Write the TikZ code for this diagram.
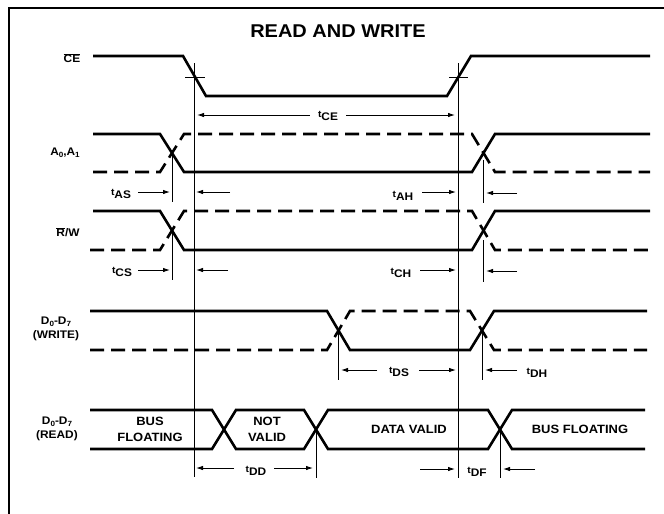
\documentclass[tikz,border=0pt]{standalone}
\usepackage{fontspec}
\setmainfont{Liberation Sans}[FakeStretch=1.08]
\usetikzlibrary{arrows.meta}
\newcommand{\tlab}[1]{{\fontsize{9.5}{9.5}\selectfont t}\raisebox{-3pt}{\fontsize{11}{11}\selectfont #1}}
\newcommand{\mysub}[1]{\raisebox{-1.5pt}{\fontsize{7.5}{7.5}\selectfont #1}}
\begin{document}
\begin{tikzpicture}[x=1pt,y=-1pt,
  sig/.style={line width=2.6pt,line cap=butt,line join=miter},
  dsig/.style={sig,dash pattern=on 14pt off 7pt},
  refl/.style={line width=0.9pt},
  tick/.style={line width=0.9pt},
  arr/.style={line width=0.9pt,-{Latex[length=7pt,width=4.5pt]}},
  lab/.style={font=\bfseries\fontsize{11}{13.5}\selectfont,inner sep=0pt,align=center},
  blab/.style={font=\bfseries\fontsize{12}{16}\selectfont,inner sep=0pt,align=center},
  tl/.style={font=\bfseries,inner sep=0pt}]
\useasboundingbox (0,0) rectangle (664,514);
% frame
\draw[line width=1.3pt] (9,514) -- (9,8) -- (664,8);
% title
\node[font=\bfseries\fontsize{18.5}{20}\selectfont,inner sep=0pt] (title) at (338,31) {READ AND WRITE};

% signal labels
\node[lab] (lce) at (72,58) {$\overline{\mbox{CE}}$};
\node[lab] (la) at (65,153) {A\mysub{0},A\mysub{1}};
\node[lab] (lrw) at (68,232) {$\overline{\mbox{R}}$/W};
\node[lab] (ldw) at (56,329) {D\mysub{0}-D\mysub{7}\\(WRITE)};
\node[lab] (ldr) at (57,429) {D\mysub{0}-D\mysub{7}\\(READ)};

% reference lines
\coordinate (r1t) at (194,63); \coordinate (r1b) at (194,477);
\coordinate (r2t) at (458,63); \coordinate (r2b) at (458,478);
\draw[refl] (r1t) -- (r1b);
\draw[refl] (r2t) -- (r2b);

% CE
\draw[sig] (93,56) -- (183,56) -- (206,96) -- (447,96) -- (471,56) -- (650,56);
\draw[tick] (185,77) -- (205,77);
\draw[tick] (449,77) -- (468,77);
\coordinate (ce1) at (197,115); \coordinate (ce2) at (455,115);
\node[tl] (tce) at (328,116) {\tlab{CE}};
\draw[arr] (tce.west) ++(-8,-1) -- (ce1);
\draw[arr] (tce.east) ++(8,-1) -- (ce2);

% A0,A1
\draw[sig] (93,134) -- (160,134) -- (184,172) -- (472,172) -- (495,134) -- (650,134);
\draw[dsig] (93,172) -- (160,172) -- (184,134) -- (472,134) -- (495,172) -- (650,172);
\draw[tick] (172,153) -- (172,202);
\draw[tick] (483.5,160) -- (483.5,203);
\node[tl] (tas) at (121,194) {\tlab{AS}};
\draw[arr] (138,192) -- (170,192);
\draw[arr] (230,192) -- (196,192);
\node[tl] (tah) at (403,196) {\tlab{AH}};
\draw[arr] (422,192) -- (456,192);
\draw[arr] (517,193) -- (486,193);

% R/W
\draw[sig] (93,211) -- (160,211) -- (184,250) -- (472,250) -- (495,211) -- (650,211);
\draw[dsig] (90,250) -- (160,250) -- (184,211) -- (472,211) -- (495,250) -- (650,250);
\draw[tick] (172,232) -- (172,280);
\draw[tick] (483.5,240) -- (483.5,282);
\node[tl] (tcs) at (122,272) {\tlab{CS}};
\draw[arr] (138,270) -- (170,270);
\draw[arr] (228,270) -- (196,270);
\node[tl] (tch) at (401,273) {\tlab{CH}};
\draw[arr] (420,270) -- (456,270);
\draw[arr] (517,271) -- (486,271);

% D0-D7 write
\draw[sig] (90,311) -- (327,311) -- (350,350) -- (470,350) -- (494,311) -- (647,311);
\draw[dsig] (90,350) -- (327,350) -- (350,311) -- (470,311) -- (494,350) -- (647,350);
\draw[tick] (338.5,330) -- (338.5,380);
\draw[tick] (482,330) -- (482,380);
\node[tl] (tds) at (399,372) {\tlab{DS}};
\draw[arr] (377,370) -- (341,370);
\draw[arr] (419,370) -- (456,370);
\node[tl] (tdh) at (537,373) {\tlab{DH}};
\draw[arr] (517,370) -- (485,370);

% D0-D7 read
\draw[sig] (90,410) -- (212,410) -- (236,449) -- (304,449) -- (328,410) -- (488,410) -- (512,449) -- (645,449);
\draw[sig] (90,449) -- (212,449) -- (236,410) -- (304,410) -- (328,449) -- (488,449) -- (512,410) -- (645,410);
\node[blab] (bf1) at (150,429) {BUS\\FLOATING};
\node[blab] (nv) at (267,429) {NOT\\VALID};
\node[blab] (dv) at (409,429) {DATA VALID};
\node[blab] (bf2) at (580,429) {BUS FLOATING};
\draw[tick] (316,430) -- (316,478);
\draw[tick] (500,430) -- (500,478);
\node[tl] (tdd) at (256,471) {\tlab{DD}};
\draw[arr] (234,468) -- (196,468);
\draw[arr] (274,468) -- (313,468);
\node[tl] (tdf) at (477,472) {\tlab{DF}};
\draw[arr] (420,469) -- (455,469);
\draw[arr] (535,469) -- (503,469);
\end{tikzpicture}
\end{document}
